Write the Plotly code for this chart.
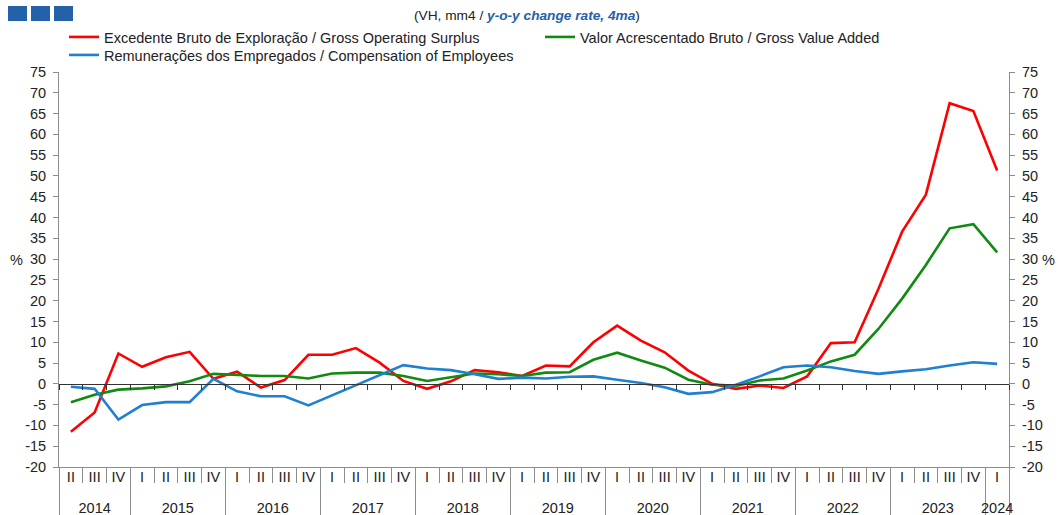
import plotly.graph_objects as go

# Quarters 2014 Q2 .. 2024 Q1
years = ["2014"] * 3 + [str(y) for y in range(2015, 2024) for _ in range(4)] + ["2024"]
quarters = ["II", "III", "IV"] + ["I", "II", "III", "IV"] * 9 + ["I"]

# y-o-y change rate, 4-quarter moving average (%)
gos = [-11.5, -6.9, 7.3, 4.1, 6.4, 7.7, 1.2, 2.9, -0.9, 0.9,
       7.0, 7.0, 8.6, 5.1, 0.7, -1.2, 0.6, 3.3, 2.8, 1.9,
       4.4, 4.2, 10.0, 14.0, 10.4, 7.6, 3.2, 0.0, -1.2, -0.4,
       -1.0, 1.8, 9.8, 10.0, 22.8, 36.6, 45.5, 67.5, 65.6, 51.3]
gva = [-4.4, -2.6, -1.4, -1.1, -0.6, 0.6, 2.4, 2.1, 1.9, 1.9,
       1.3, 2.5, 2.7, 2.7, 1.9, 0.7, 1.6, 2.5, 2.3, 1.9,
       2.7, 2.8, 5.8, 7.5, 5.6, 3.9, 1.0, -0.2, -0.5, 0.8,
       1.3, 3.2, 5.4, 7.0, 13.2, 20.5, 28.6, 37.4, 38.4, 31.6]
coe = [-0.7, -1.2, -8.6, -5.1, -4.4, -4.4, 1.2, -1.8, -3.0, -3.0,
       -5.2, -2.8, -0.3, 2.1, 4.5, 3.7, 3.3, 2.3, 1.2, 1.5,
       1.3, 1.7, 1.8, 1.0, 0.2, -0.8, -2.4, -2.0, -0.2, 1.8,
       4.0, 4.4, 4.0, 3.1, 2.4, 3.0, 3.5, 4.4, 5.2, 4.8]

names = ["Excedente Bruto de Exploração / Gross Operating Surplus",
         "Valor Acrescentado Bruto / Gross Value Added",
         "Remunerações dos Empregados / Compensation of Employees"]
colors = ["#ff0000", "#108a10", "#1f7fd0"]
legend_ids = ["legend", "legend2", "legend3"]

yticks = list(range(-20, 80, 5))
ymin, ymax = -20, 75
n = len(quarters)
xs = list(range(n))

# year groups -> boundaries and label centres
year_labels, year_bounds, year_centres = [], [-0.5], []
start = 0
for i in range(1, n + 1):
    if i == n or years[i] != years[i - 1]:
        year_labels.append(years[start])
        year_centres.append((start + i - 1) / 2)
        year_bounds.append(i - 0.5)
        start = i

FONT = "Liberation Sans, Arial, sans-serif"
GREY = "#8c8c8c"
TXT = "#222222"
L, R, T, B = 59, 49, 72, 48
W, H = 1058, 515
PW, PH = W - L - R, H - T - B


def px(x):
    return (x - L) / PW


def py(y):
    return 1 + (T - y) / PH


fig = go.Figure()
for name, vals, col, lg in zip(names, [gos, gva, coe], colors, legend_ids):
    fig.add_trace(go.Scatter(x=xs, y=vals, mode="lines", name=name, legend=lg,
                             line=dict(color=col, width=2.6)))

# empty traces so every helper axis is drawn
for xa, ya in [("x2", "y"), ("x3", "y"), ("x4", "y"), ("x5", "y"), ("x", "y2")]:
    fig.add_trace(go.Scatter(x=[0], y=[None], xaxis=xa, yaxis=ya,
                             showlegend=False, hoverinfo="skip"))

# header squares
for k in range(3):
    x0 = 8 + k * 23
    fig.add_shape(type="rect", xref="paper", yref="paper",
                  x0=px(x0), x1=px(x0 + 19), y0=py(21), y1=py(6),
                  fillcolor="#2361a9", line_width=0)

xr = [-0.5, n - 0.5]
helper = dict(overlaying="x", range=xr, showgrid=False, zeroline=False, automargin=False)
legend_common = dict(orientation="h", xanchor="left", yanchor="top", itemwidth=30,
                     font=dict(size=14.5, color=TXT), bgcolor="rgba(0,0,0,0)")

fig.update_layout(
    width=W, height=H,
    margin=dict(l=L, r=R, t=T, b=B),
    paper_bgcolor="white", plot_bgcolor="white",
    font=dict(family=FONT, size=14.5, color=TXT),
    legend=dict(x=px(64), y=py(21), **legend_common),
    legend2=dict(x=px(540), y=py(21), **legend_common),
    legend3=dict(x=px(64), y=py(39), **legend_common),
    xaxis=dict(range=xr, tickvals=xs, ticktext=quarters, ticks="", showline=True,
               linecolor=GREY, showgrid=False, zeroline=False, ticklabelstandoff=-3,
               automargin=False),
    # zero line with its small ticks
    xaxis2=dict(anchor="free", position=(0 - ymin) / (ymax - ymin),
                tickmode="linear", tick0=-0.5, dtick=1, ticks="outside", ticklen=5,
                tickcolor="#333", showline=True, linecolor="#333",
                showticklabels=False, **helper),
    # separators between quarters
    xaxis3=dict(anchor="y", tickmode="linear", tick0=-0.5, dtick=1, ticks="outside",
                ticklen=15, tickcolor=GREY, showline=False, showticklabels=False, **helper),
    # separators between years
    xaxis4=dict(anchor="y", tickvals=year_bounds, ticks="outside", ticklen=48,
                tickcolor=GREY, showline=False, showticklabels=False, **helper),
    # year labels
    xaxis5=dict(anchor="y", tickvals=year_centres, ticktext=year_labels, ticks="",
                showline=False, ticklabelstandoff=30, **helper),
    yaxis=dict(range=[ymin, ymax], tickvals=yticks, ticktext=[str(v) for v in yticks],
               ticks="outside", ticklen=5, tickcolor=GREY, showline=True,
               linecolor=GREY, showgrid=False, zeroline=False, ticklabelstandoff=4,
               automargin=False),
    yaxis2=dict(range=[ymin, ymax], tickvals=yticks, ticktext=[str(v) for v in yticks],
                overlaying="y", side="right", anchor="x",
                ticks="outside", ticklen=5, tickcolor=GREY, showline=True,
                linecolor=GREY, showgrid=False, zeroline=False, ticklabelstandoff=4,
                automargin=False),
    annotations=[
        dict(text="%", xref="paper", yref="paper", x=px(16), y=py(260), showarrow=False,
             font=dict(size=14.5, color=TXT), xanchor="center"),
        dict(text="%", xref="paper", yref="paper", x=px(1048), y=py(260), showarrow=False,
             font=dict(size=14.5, color=TXT), xanchor="center"),
        dict(text="(VH, mm4 / <b><i><span style='color:#2361a9'>y-o-y change rate, 4ma</span></i></b>)",
             xref="paper", yref="paper", x=px(527), y=py(16),
             showarrow=False, font=dict(size=13.7, color=TXT), xanchor="center", yanchor="middle"),
    ],
)

fig.write_html("out.html", config={"displayModeBar": False},
               post_script="document.body.style.margin='0';")
